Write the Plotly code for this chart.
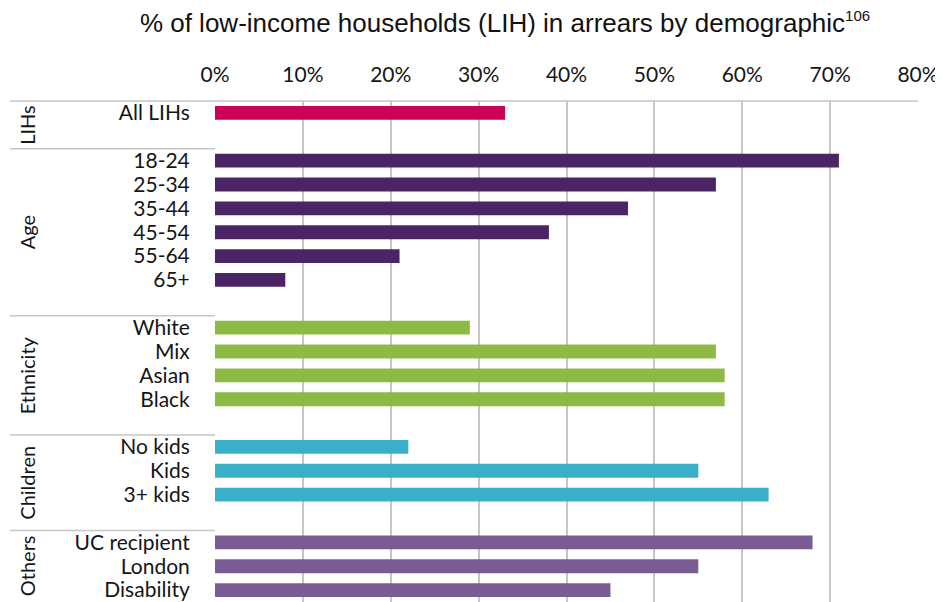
import plotly.graph_objects as go

# Data
groups = ["LIHs", "Age", "Ethnicity", "Children", "Others"]
group_colors = ["#CC0055", "#4B2466", "#8BBB45", "#3AB0C8", "#7B5B94"]

lih_labels = ["All LIHs"]
lih_values = [33]

age_labels = ["18-24", "25-34", "35-44", "45-54", "55-64", "65+"]
age_values = [71, 57, 47, 38, 21, 8]

ethnicity_labels = ["White", "Mix", "Asian", "Black"]
ethnicity_values = [29, 57, 58, 58]

children_labels = ["No kids", "Kids", "3+ kids"]
children_values = [22, 55, 63]

others_labels = ["UC recipient", "London", "Disability"]
others_values = [68, 55, 45]

x_ticks = [0, 10, 20, 30, 40, 50, 60, 70, 80]

group_labels = [lih_labels, age_labels, ethnicity_labels, children_labels, others_labels]
group_values = [lih_values, age_values, ethnicity_values, children_values, others_values]

# Slot layout: each group's rows followed by one empty row
n_slots = sum(len(l) + 1 for l in group_labels) - 1
y_range = [n_slots - 0.5, -0.5]


def to_paper(v):
    return (y_range[0] - v) / (y_range[0] - y_range[1])


fig = go.Figure()
tickvals, ticktext = [], []
boundaries = [-0.5]
centers = []
pos = 0
for name, labels, values, color in zip(groups, group_labels, group_values, group_colors):
    ys = list(range(pos, pos + len(labels)))
    fig.add_trace(go.Bar(
        x=values, y=ys, orientation="h", name=name,
        marker=dict(color=color, line=dict(width=0)),
        width=0.58, hoverinfo="x+text", text=labels, textposition="none",
    ))
    tickvals += ys
    ticktext += labels
    start = pos - 0.5
    pos += len(labels) + 1
    end = min(pos - 0.5, n_slots - 0.5)
    centers.append((start + end) / 2)
    boundaries.append(pos - 0.5)

# page body adds an 8px offset, so the figure is laid out 8px up/left
W, H = 935, 594
L, R, T = 207, 25, 93
plot_w = W - L - R
left_px = 2
line_color = "#c6c6c6"
text_color = "#151515"

shapes = []
# top line spanning label column and plot
shapes.append(dict(type="line", xref="paper", yref="paper",
                   x0=(left_px - L) / plot_w, x1=1, y0=to_paper(-0.5), y1=to_paper(-0.5),
                   line=dict(color=line_color, width=1.5)))
# group separators in the label column
for b in boundaries[1:-1]:
    shapes.append(dict(type="line", xref="paper", yref="paper",
                       x0=(left_px - L) / plot_w, x1=0, y0=to_paper(b), y1=to_paper(b),
                       line=dict(color=line_color, width=1.5)))

annotations = []
for name, c in zip(groups, centers):
    annotations.append(dict(
        text=name, xref="paper", yref="paper",
        x=(19 - L) / plot_w, y=to_paper(c), textangle=-90,
        showarrow=False, xanchor="center", yanchor="middle",
        font=dict(family="Lato", size=20, color=text_color),
    ))

title_text = ("% of low-income households (LIH) in arrears by demographic"
              "<sup><span style='font-size:15px'>106</span></sup>")

fig.update_layout(
    width=W, height=H,
    margin=dict(l=L, r=R, t=T, b=0, pad=0),
    plot_bgcolor="white", paper_bgcolor="white",
    showlegend=False,
    bargap=0.42,
    title=dict(
        text=title_text,
        x=497 / W, xref="container", xanchor="center", y=1 - 15 / H, yanchor="middle",
        font=dict(family="Liberation Sans", size=26, color="#111111"),
    ),
    xaxis=dict(
        side="top", range=[0, 80], tickvals=x_ticks,
        ticktext=[f"{t}%" for t in x_ticks],
        showgrid=True, gridcolor=line_color, gridwidth=1.5,
        zeroline=False, showline=False,
        ticks="outside", ticklen=15, tickcolor="rgba(0,0,0,0)",
        ticklabelstandoff=-5,
        tickfont=dict(family="Lato", size=21, color=text_color),
        fixedrange=True,
    ),
    yaxis=dict(
        range=y_range, tickvals=tickvals, ticktext=ticktext,
        showgrid=False, zeroline=False, showline=False,
        ticks="outside", ticklen=20, tickcolor="rgba(0,0,0,0)",
        tickfont=dict(family="Lato", size=21, color=text_color),
        fixedrange=True,
    ),
    shapes=shapes,
    annotations=annotations,
)

fig.write_html("out.html")
